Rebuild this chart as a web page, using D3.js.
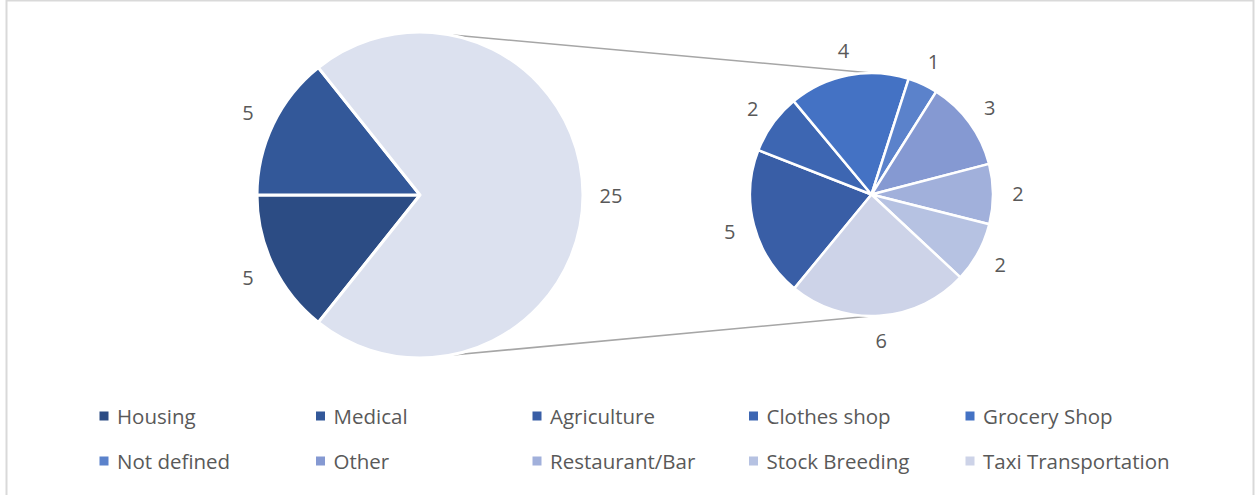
<!DOCTYPE html>
<html>
<head>
<meta charset="utf-8">
<script src="https://cdn.jsdelivr.net/npm/d3@7/dist/d3.min.js"></script>
<style>
  html, body { margin: 0; padding: 0; background: #fff; }
  svg { display: block; font-family: "Open Sans", "Noto Sans", sans-serif; }
</style>
</head>
<body>
<svg id="chart" width="1260" height="495"></svg>
<script>
// Main pie: categories shown on their own
const mainCategories = ["Housing", "Medical"];
const mainValues = [5, 5];

// Secondary pie: categories grouped into the main pie's remaining slice
const subCategories = ["Agriculture", "Clothes shop", "Grocery Shop", "Not defined", "Other",
                       "Restaurant/Bar", "Stock Breeding", "Taxi Transportation"];
const subValues = [5, 2, 4, 1, 3, 2, 2, 6];

// Legend order
const legendLabels = ["Housing", "Medical", "Agriculture", "Clothes shop", "Grocery Shop",
                      "Not defined", "Other", "Restaurant/Bar", "Stock Breeding", "Taxi Transportation"];

const colors = {
  "Housing": "#2c4c84",
  "Medical": "#335899",
  "Agriculture": "#395ea6",
  "Clothes shop": "#3d66b2",
  "Grocery Shop": "#4472c4",
  "Not defined": "#5b82cb",
  "Other": "#8599d2",
  "Restaurant/Bar": "#a1b0db",
  "Stock Breeding": "#b6c2e2",
  "Taxi Transportation": "#cdd3e8",
  "__group": "#dce1ef"
};

const svg = d3.select("#chart");
const W = 1260, H = 495;
const textColor = "#595959";

// chart frame
svg.append("rect")
  .attr("x", 6.5).attr("y", 0.5)
  .attr("width", 1247).attr("height", H + 10)
  .attr("fill", "#fff").attr("stroke", "#d9d9d9").attr("stroke-width", 2);

const deg = Math.PI / 180;
const groupTotal = d3.sum(subValues);
const mainData = mainCategories.map((c, i) => ({ key: c, value: mainValues[i] }))
  .concat([{ key: "__group", value: groupTotal }]);
const mainTotal = d3.sum(mainData, d => d.value);

// Main pie geometry: the shown slices sit on the left, the grouped slice faces right
const mainC = { x: 420, y: 195 }, mainR = 163;
const shownSum = d3.sum(mainValues);
const mainStart = 1.5 * Math.PI - Math.PI * shownSum / mainTotal;
const mainPie = d3.pie().value(d => d.value).sort(null)
  .startAngle(mainStart).endAngle(mainStart + 2 * Math.PI);
const mainArcs = mainPie(mainData);

// Secondary pie geometry
const subC = { x: 871.5, y: 194.5 }, subR = 121.5;
const subStart = 219.4 * deg;
const subData = subCategories.map((c, i) => ({ key: c, value: subValues[i] }));
const subPie = d3.pie().value(d => d.value).sort(null)
  .startAngle(subStart).endAngle(subStart + 2 * Math.PI);
const subArcs = subPie(subData);

// connector lines between the pies
const pt = (c, r, a) => [c.x + r * Math.sin(a), c.y - r * Math.cos(a)];
const connAngle = 10.5 * deg;
const connectors = [
  [pt(mainC, mainR, connAngle), pt(subC, subR, 0)],
  [pt(mainC, mainR, Math.PI - connAngle), pt(subC, subR, Math.PI)]
];
svg.append("g").selectAll("line").data(connectors).join("line")
  .attr("x1", d => d[0][0]).attr("y1", d => d[0][1])
  .attr("x2", d => d[1][0]).attr("y2", d => d[1][1])
  .attr("stroke", "#a6a6a6").attr("stroke-width", 1.6);

// main pie slices
const mainArc = d3.arc().innerRadius(0).outerRadius(mainR);
svg.append("g").attr("transform", `translate(${mainC.x},${mainC.y})`)
  .selectAll("path").data(mainArcs).join("path")
  .attr("d", mainArc)
  .attr("fill", d => colors[d.data.key])
  .attr("stroke", "#fff").attr("stroke-width", 3).attr("stroke-linejoin", "round");

// secondary pie slices
const subArc = d3.arc().innerRadius(0).outerRadius(subR);
svg.append("g").attr("transform", `translate(${subC.x},${subC.y})`)
  .selectAll("path").data(subArcs).join("path")
  .attr("d", subArc)
  .attr("fill", d => colors[d.data.key])
  .attr("stroke", "#fff").attr("stroke-width", 2.5).attr("stroke-linejoin", "round");

// data labels, outside end
function addLabels(arcs, c, r) {
  const la = d3.arc().innerRadius(r).outerRadius(r);
  svg.append("g").attr("transform", `translate(${c.x},${c.y})`)
    .selectAll("text").data(arcs).join("text")
    .attr("transform", d => `translate(${la.centroid(d)})`)
    .attr("text-anchor", "middle")
    .attr("dominant-baseline", "central")
    .attr("font-size", 20)
    .attr("fill", textColor)
    .text(d => d.data.value);
}
addLabels(mainArcs, mainC, mainR + 28);
addLabels(subArcs, subC, subR + 25);

// legend: two rows of five
const legX = d3.scalePoint().domain(d3.range(5)).range([104, 970]);
const legY = d3.scalePoint().domain([0, 1]).range([416, 461]);
const leg = svg.append("g").selectAll("g").data(legendLabels).join("g")
  .attr("transform", (d, i) => `translate(${legX(i % 5)},${legY(Math.floor(i / 5))})`);
leg.append("rect")
  .attr("x", -4.5).attr("y", -4.5).attr("width", 9).attr("height", 9)
  .attr("fill", d => colors[d]);
leg.append("text")
  .attr("x", 13).attr("y", 0)
  .attr("dominant-baseline", "central")
  .attr("font-size", 20.5)
  .attr("fill", textColor)
  .text(d => d);
</script>
</body>
</html>
